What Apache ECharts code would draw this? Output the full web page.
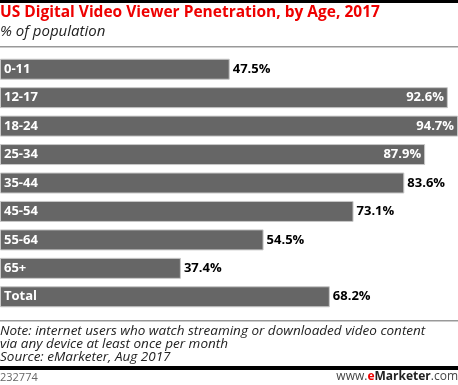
<!DOCTYPE html>
<html><head><meta charset="utf-8">
<script src="https://cdn.jsdelivr.net/npm/echarts@6/dist/echarts.min.js"></script>
<style>html,body{margin:0;padding:0;background:#fff}#c{width:458px;height:385px}</style>
</head><body><div id="c"></div>
<script>
const categories = ['0-11','12-17','18-24','25-34','35-44','45-54','55-64','65+','Total'];
const values = [47.5, 92.6, 94.7, 87.9, 83.6, 73.1, 54.5, 37.4, 68.2];
const titleText = 'US Digital Video Viewer Penetration, by Age, 2017';
const subtitleText = '% of population';
const noteLines = ['Note: internet users who watch streaming or downloaded video content','via any device at least once per month','Source: eMarketer, Aug 2017'];
const chartId = '232774';

const FONT = '"Open Sans", "Liberation Sans", sans-serif';
const chart = echarts.init(document.getElementById('c'), null, {renderer:'canvas'});
const data = values.map(v => ({
  value: v,
  label: v > 85
    ? {position:'insideRight', color:'#fff', distance:4}
    : {position:'right', color:'#000', distance:3}
}));
chart.setOption({
  animation:false,
  title:{
    text:titleText, subtext:subtitleText, left:0, top:5, itemGap:3,
    textStyle:{color:'#ee0000', fontSize:15.5, fontWeight:'bold', fontFamily:FONT},
    subtextStyle:{color:'#222', fontSize:15, fontStyle:'italic', fontFamily:FONT},
    padding:0
  },
  grid:{left:0, right:0, top:55, bottom:74, containLabel:false},
  xAxis:{type:'value', min:0, max:94.7, show:false},
  yAxis:{type:'category', data:categories, inverse:true,
    axisLine:{show:false}, axisTick:{show:false},
    axisLabel:{inside:true, margin:4, color:'#fff', fontWeight:'bold', fontSize:13, fontFamily:FONT},
    z:10},
  series:[{type:'bar', data:data, barWidth:21,
    itemStyle:{color:'#666666', borderColor:'#c8c8c8', borderWidth:1},
    label:{show:true, fontWeight:'bold', fontSize:13, fontFamily:FONT, formatter:p=>p.value.toFixed(1)+'%'}
  }],
  graphic:[
    {type:'rect', shape:{x:0,y:0,width:458,height:3}, style:{fill:'#000'}},
    {type:'rect', shape:{x:0,y:46,width:458,height:1.5}, style:{fill:'#999'}},
    {type:'rect', shape:{x:0,y:320,width:458,height:1.5}, style:{fill:'#999'}},
    {type:'text', left:0, top:324, style:{text:noteLines.join('\n'), fill:'#222', font:'italic 13.5px '+FONT, lineHeight:13}},
    {type:'rect', shape:{x:0,y:366,width:458,height:4}, style:{fill:'#000'}},
    {type:'text', left:0, top:372, style:{text:chartId, fill:'#666', font:'11px '+FONT}},
    {type:'text', right:0, top:371, style:{
      text:'{a|www.}{b|e}{c|Marketer}{a|.com}',
      rich:{a:{fill:'#444', font:'12px '+FONT}, b:{fill:'#ee0000', font:'bold 12px '+FONT}, c:{fill:'#222', font:'bold 12px '+FONT}}
    }}
  ]
});
</script></body></html>
